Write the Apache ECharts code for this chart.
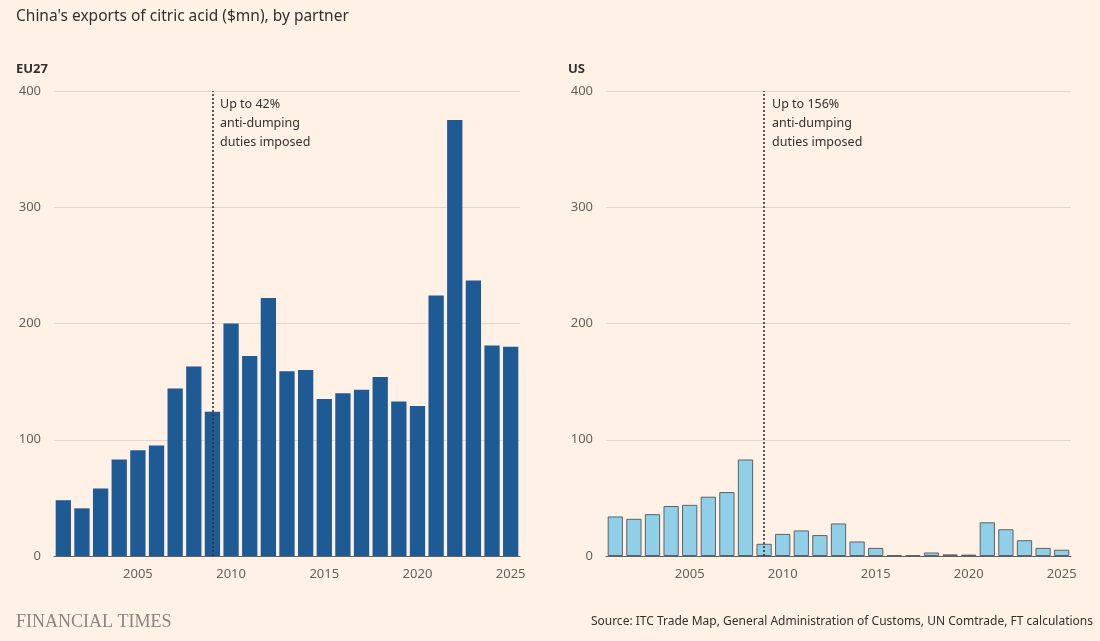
<!DOCTYPE html>
<html>
<head>
<meta charset="utf-8">
<script src="https://cdn.jsdelivr.net/npm/echarts@6/dist/echarts.min.js"></script>
<style>
  html, body { margin: 0; padding: 0; background: #fff1e5; }
  #chart { width: 1100px; height: 641px; }
</style>
</head>
<body>
<div id="chart"></div>
<script>
// years on the category axis
const years = [];
for (let y = 2001; y <= 2025; y++) years.push(String(y));

// China's exports of citric acid, $mn
const euValues = [48, 41, 58, 83, 91, 95, 144, 163, 124, 200, 172, 222, 159, 160, 135,
  140, 143, 154, 133, 129, 224, 375, 237, 181, 180];
const usValues = [34, 32, 36, 43, 44, 51, 55, 83, 10.5, 19, 22, 18, 28, 12.5, 7,
  0.8, 0.8, 3, 1.4, 1.2, 29, 23, 13.6, 7, 5.4];

const yTicks = [0, 100, 200, 300, 400];
const labelYears = ['2005', '2010', '2015', '2020', '2025'];
const dutyYear = '2009';

const font = 'Noto Sans';
const textColor = '#66605c';

const chart = echarts.init(document.getElementById('chart'));

function xAxis(gridIndex) {
  return {
    type: 'category',
    gridIndex,
    data: years,
    axisLine: { lineStyle: { color: '#66605c', width: 1 } },
    axisTick: {
      alignWithLabel: true,
      interval: (i, v) => labelYears.includes(v),
      length: 5,
      lineStyle: { color: '#66605c' }
    },
    axisLabel: {
      interval: (i, v) => labelYears.includes(v),
      color: textColor,
      fontFamily: font,
      fontSize: 13,
      margin: 12
    }
  };
}

function yAxis(gridIndex) {
  return {
    type: 'value',
    gridIndex,
    min: yTicks[0],
    max: yTicks[yTicks.length - 1],
    interval: 100,
    axisLine: { show: false },
    axisTick: { show: false },
    axisLabel: { color: textColor, fontFamily: font, fontSize: 13, margin: 13 },
    splitLine: { lineStyle: { color: '#e3d6cb', width: 1 } }
  };
}

function dutyLine() {
  return {
    silent: true,
    symbol: 'none',
    label: { show: false },
    lineStyle: { color: '#33302e', type: [2, 2], width: 1.6 },
    data: [{ xAxis: dutyYear }]
  };
}

function note(left, firstLine) {
  return {
    type: 'text',
    left,
    top: 95,
    style: {
      text: firstLine + '\nanti-dumping\nduties imposed',
      fontFamily: font,
      fontSize: 12.5,
      lineHeight: 19,
      fill: '#33302e'
    }
  };
}

chart.setOption({
  backgroundColor: '#fff1e5',
  animation: false,
  grid: [
    { left: 54, right: 580, top: 91, bottom: 85 },
    { left: 606, right: 29, top: 91, bottom: 85 }
  ],
  xAxis: [xAxis(0), xAxis(1)],
  yAxis: [yAxis(0), yAxis(1)],
  series: [
    {
      name: 'EU27',
      type: 'bar',
      xAxisIndex: 0,
      yAxisIndex: 0,
      data: euValues,
      barCategoryGap: '18%',
      itemStyle: { color: '#1e5a94' },
      markLine: dutyLine()
    },
    {
      name: 'US',
      type: 'bar',
      xAxisIndex: 1,
      yAxisIndex: 1,
      data: usValues,
      barCategoryGap: '18%',
      itemStyle: { color: '#8fd0e8', borderColor: '#5e6266', borderWidth: 1 },
      markLine: dutyLine()
    }
  ],
  graphic: [
    {
      type: 'text', left: 16, top: 9,
      style: { text: "China's exports of citric acid ($mn), by partner", fontFamily: font, fontSize: 15.5, fill: '#33302e' }
    },
    {
      type: 'text', left: 16, top: 63,
      style: { text: 'EU27', fontFamily: font, fontSize: 13, fontWeight: 'bold', fill: '#33302e' }
    },
    {
      type: 'text', left: 568, top: 63,
      style: { text: 'US', fontFamily: font, fontSize: 13, fontWeight: 'bold', fill: '#33302e' }
    },
    note(220, 'Up to 42%'),
    note(772, 'Up to 156%'),
    {
      type: 'text', left: 16, top: 613,
      style: { text: 'FINANCIAL TIMES', fontFamily: 'Liberation Serif', fontSize: 18, fill: '#8a8580' }
    },
    {
      type: 'text', right: 7, top: 616,
      style: {
        text: 'Source: ITC Trade Map, General Administration of Customs, UN Comtrade, FT calculations',
        fontFamily: font, fontSize: 12, fill: '#33302e'
      }
    }
  ]
});
</script>
</body>
</html>
